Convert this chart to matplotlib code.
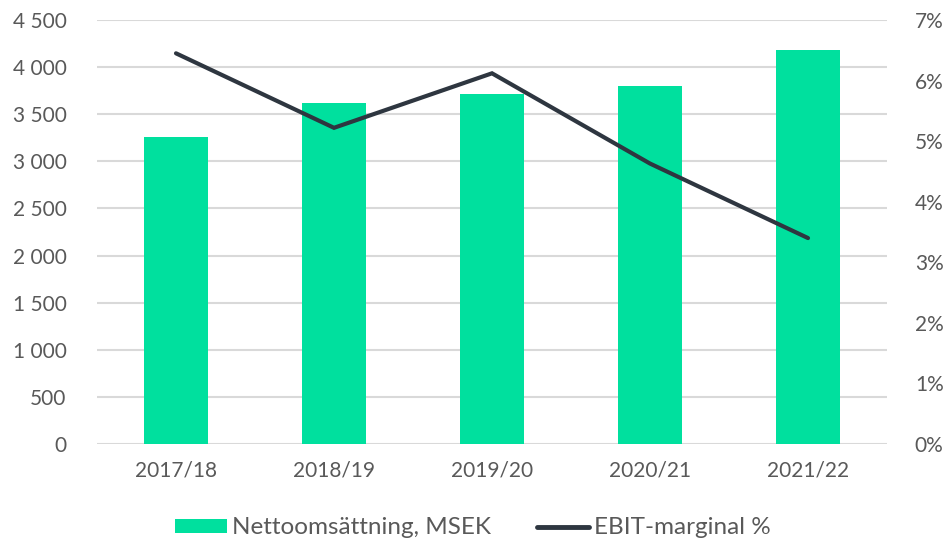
import matplotlib.pyplot as plt
from matplotlib.lines import Line2D
from matplotlib.patches import Patch
from matplotlib.ticker import FuncFormatter

# ---------------------------------------------------------------------------
# Data
# ---------------------------------------------------------------------------
years = ["2017/18", "2018/19", "2019/20", "2020/21", "2021/22"]
net_sales = [3260, 3620, 3710, 3800, 4180]          # MSEK
ebit_margin = [6.45, 5.22, 6.12, 4.63, 3.40]         # %

GREEN = "#00E09E"
DARK = "#2E3640"
GREY_TXT = "#595959"
GRID = "#D9D9D9"

plt.rcParams["font.family"] = ["Lato", "DejaVu Sans"]

fig = plt.figure(figsize=(9.46, 5.41), dpi=100)
ax = fig.add_axes([97 / 946, 97 / 541, 790 / 946, 424 / 541])
ax2 = ax.twinx()

x = list(range(len(years)))
ax.bar(x, net_sales, width=0.4, color=GREEN, zorder=2)
ax.set_xlim(-0.5, len(years) - 0.5)
ax.set_ylim(0, 4500)
ax.set_yticks(range(0, 4501, 500))
ax.yaxis.set_major_formatter(FuncFormatter(lambda v, p: f"{int(v):,}".replace(",", " ")))
ax.set_xticks(x)
ax.set_xticklabels(years)
ax.grid(axis="y", color=GRID, linewidth=1.5, zorder=0)
ax.set_axisbelow(True)

ax2.set_ylim(0, 7)
ax2.set_yticks(range(0, 8))
ax2.yaxis.set_major_formatter(FuncFormatter(lambda v, p: f"{int(v)}%"))
ax2.plot(x, ebit_margin, color=DARK, linewidth=3, solid_capstyle="round",
         solid_joinstyle="miter", zorder=3)

for a in (ax, ax2):
    for s in a.spines.values():
        s.set_visible(False)
    a.tick_params(length=0, labelsize=15, colors=GREY_TXT)
ax.tick_params(axis="y", pad=22)
ax.tick_params(axis="x", pad=12)
ax2.tick_params(axis="y", pad=20)

handles = [Patch(facecolor=GREEN, edgecolor="none"),
           Line2D([0], [0], color=DARK, linewidth=3.5, solid_capstyle="round")]
fig.legend(handles, ["Nettoomsättning, MSEK", "EBIT-marginal %"],
           loc="center", bbox_to_anchor=(0.5, 13 / 541), ncol=2, frameon=False,
           fontsize=17.5, labelcolor=GREY_TXT, handlelength=2.15, handleheight=0.5,
           handletextpad=0.2, columnspacing=1.9)

fig.savefig("out.png", dpi=100)
